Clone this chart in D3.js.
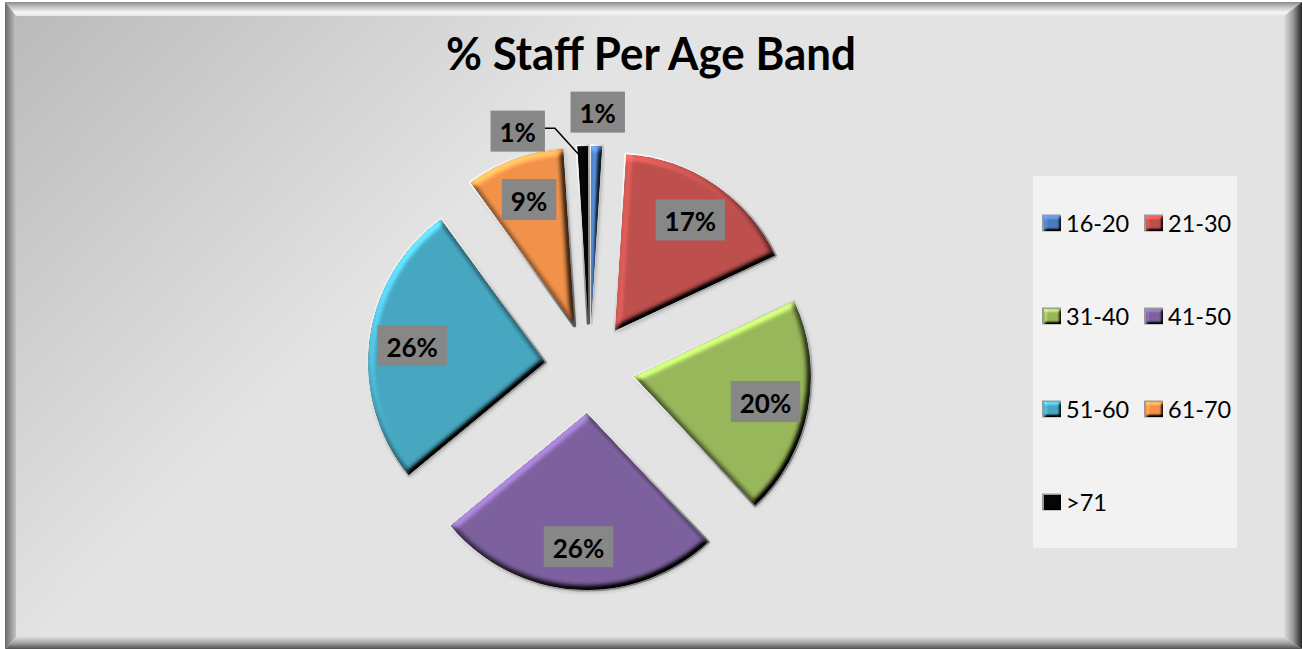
<!DOCTYPE html>
<html>
<head>
<meta charset="utf-8">
<script src="https://cdn.jsdelivr.net/npm/d3@7"></script>
<style>
  html, body { margin: 0; padding: 0; background: #ffffff; }
  svg { display: block; }
</style>
</head>
<body>
<svg id="chart" width="1302" height="649"></svg>
<script>
// Age bands and their share of staff (percent)
const categories = ["16-20", "21-30", "31-40", "41-50", "51-60", "61-70", ">71"];
const shares = [1, 17, 20, 26, 26, 9, 1];
const sliceColors = ["#4a7bbb", "#bd4f4c", "#98b75a", "#7c619e", "#47a7c1", "#f2924a", "#050505"];
const chartTitle = "% Staff Per Age Band";

const W = 1302, H = 649;
const svg = d3.select("#chart");
const defs = svg.append("defs");

// ---------- gradients ----------
function linGrad(id, x1, y1, x2, y2, stops, units) {
  const g = defs.append("linearGradient").attr("id", id)
    .attr("x1", x1).attr("y1", y1).attr("x2", x2).attr("y2", y2);
  if (units) g.attr("gradientUnits", units);
  stops.forEach(([o, c, a]) => g.append("stop").attr("offset", o)
    .attr("stop-color", c).attr("stop-opacity", a == null ? 1 : a));
}
linGrad("bgGrad", 0, 0, 340, 330, [[0, "#b8b8b8"], [1, "#e3e3e3"]], "userSpaceOnUse");
linGrad("topBand", 0, 2, 0, 16, [[0, "#8c8c8c"], [0.25, "#b4b4b4"], [0.75, "#f6f6f6"], [1, "#e6e6e6"]], "userSpaceOnUse");
linGrad("leftBand", 5, 0, 16, 0, [[0, "#6a6a6a"], [1, "#c2c2c2"]], "userSpaceOnUse");
linGrad("rightBand", 1284, 0, 1302, 0, [[0, "#dedede"], [0.5, "#9a9a9a"], [1, "#262626"]], "userSpaceOnUse");
linGrad("bottomBand", 0, 637, 0, 649, [[0, "#dcdcdc"], [0.5, "#a4a4a4"], [1, "#505050"]], "userSpaceOnUse");
linGrad("rimGrad", 0, 0, 1, 1, [[0, "#ffffff"], [0.45, "#d8d8d8"], [1, "#5a5a5a"]]);

// ---------- bevel filters ----------
function bevelFilter(id, blur, scale) {
  const f = defs.append("filter").attr("id", id)
    .attr("x", "-10%").attr("y", "-10%").attr("width", "120%").attr("height", "120%")
    .attr("color-interpolation-filters", "sRGB");
  f.append("feGaussianBlur").attr("in", "SourceAlpha").attr("stdDeviation", blur).attr("result", "b");
  const dl = f.append("feDiffuseLighting").attr("in", "b").attr("surfaceScale", scale)
    .attr("diffuseConstant", 1).attr("lighting-color", "#ffffff").attr("result", "light");
  dl.append("feDistantLight").attr("azimuth", 235).attr("elevation", 45);
  f.append("feComposite").attr("in", "SourceGraphic").attr("in2", "light")
    .attr("operator", "arithmetic").attr("k1", 1.414).attr("k2", 0).attr("k3", 0).attr("k4", 0)
    .attr("result", "lit");
  f.append("feComposite").attr("in", "lit").attr("in2", "SourceAlpha").attr("operator", "in");
}
bevelFilter("bevel", 3.4, 5);
bevelFilter("bevelSmall", 1.4, 2.6);

const shadow = defs.append("filter").attr("id", "softShadow")
  .attr("x", "-10%").attr("y", "-10%").attr("width", "120%").attr("height", "120%");
shadow.append("feGaussianBlur").attr("stdDeviation", 2);

// ---------- background and frame ----------
svg.append("rect").attr("x", 5).attr("y", 2).attr("width", W - 5).attr("height", H - 2)
  .attr("fill", "url(#bgGrad)");
const bands = [
  ["url(#topBand)", [[5, 2], [1302, 2], [1284, 16], [16, 16]]],
  ["url(#leftBand)", [[5, 2], [16, 16], [16, 637], [5, 649]]],
  ["url(#rightBand)", [[1302, 2], [1302, 649], [1284, 637], [1284, 16]]],
  ["url(#bottomBand)", [[5, 649], [1302, 649], [1284, 637], [16, 637]]]
];
svg.selectAll("polygon.band").data(bands).join("polygon").attr("class", "band")
  .attr("points", d => d[1].map(p => p.join(",")).join(" "))
  .attr("fill", d => d[0]);

// ---------- title ----------
svg.append("text").attr("x", 651).attr("y", 70)
  .attr("text-anchor", "middle")
  .attr("font-family", "Lato, 'Open Sans', sans-serif")
  .attr("font-weight", 700).attr("font-size", 45)
  .attr("textLength", 410).attr("lengthAdjust", "spacingAndGlyphs")
  .attr("fill", "#000").text(chartTitle);

// ---------- pie ----------
const cx = 589.7, cy = 368, R = 177, explode = 45;
const pie = d3.pie().sort(null).value(d => d);
const arcs = pie(shares);
const arcGen = d3.arc().innerRadius(0).outerRadius(R);

function mid(a) { return (a.startAngle + a.endAngle) / 2; }

const pieG = svg.append("g").attr("transform", `translate(${cx},${cy})`);
const slices = pieG.selectAll("g.slice").data(arcs).join("g").attr("class", "slice")
  .attr("transform", d => {
    const m = mid(d);
    return `translate(${explode * Math.sin(m)},${-explode * Math.cos(m)})`;
  });

// soft shadow under each slice
slices.append("path").attr("d", arcGen)
  .attr("transform", "translate(1.5,2)")
  .attr("fill", "#000").attr("opacity", 0.22).attr("filter", "url(#softShadow)");
// thin rim around the slice
slices.append("path").attr("d", arcGen)
  .attr("fill", "none").attr("stroke", "url(#rimGrad)").attr("stroke-width", 3.4)
  .attr("stroke-linejoin", "round");
// bevelled fill
slices.append("path").attr("d", arcGen)
  .attr("fill", (d, i) => sliceColors[i]).attr("filter", "url(#bevel)");

// ---------- data labels ----------
const labelFont = "Lato, 'Open Sans', sans-serif";
const labelR = 134, outerLabelR = R + 34;
const labels = arcs.map((d, i) => {
  const m = mid(d);
  const ox = explode * Math.sin(m), oy = -explode * Math.cos(m);
  const small = shares[i] < 3;
  const r = small ? outerLabelR : labelR;
  return {
    i, small,
    x: cx + ox + r * Math.sin(m),
    y: cy + oy - r * Math.cos(m),
    tipX: cx + ox + (R - 6) * Math.sin(m),
    tipY: cy + oy - (R - 6) * Math.cos(m),
    text: shares[i] + "%"
  };
});
// small outside labels that would collide are pushed to the left and given a leader line
for (let a = 0; a < labels.length; a++) {
  for (let b = 0; b < a; b++) {
    const A = labels[a], B = labels[b];
    if (A.small && B.small && Math.abs(A.x - B.x) < 55 && Math.abs(A.y - B.y) < 42) {
      A.x = B.x - 80; A.y = B.y + 19; A.leader = true;
    }
  }
}

const lblG = svg.append("g");
labels.forEach(l => {
  const g = lblG.append("g");
  const t = g.append("text").attr("x", l.x).attr("y", l.y + 1)
    .attr("text-anchor", "middle").attr("dominant-baseline", "central")
    .attr("font-family", labelFont).attr("font-weight", 700).attr("font-size", 26)
    .attr("fill", "#000").text(l.text);
  const w = t.node().getComputedTextLength() + 18;
  const h = 41;
  g.insert("rect", "text").attr("x", l.x - w / 2).attr("y", l.y - h / 2)
    .attr("width", w).attr("height", h).attr("fill", "#878787");
  if (l.leader) {
    const sx = l.x + w / 2, sy = l.y - 3;
    lblG.insert("polyline", "g").attr("points",
      `${sx},${sy} ${sx + 10},${sy} ${l.tipX - 1},${l.tipY + 6}`)
      .attr("fill", "none").attr("stroke", "#000").attr("stroke-width", 1.5);
  }
});

// ---------- legend ----------
const legX = 1033, legY = 176, legW = 204, legH = 372;
svg.append("rect").attr("x", legX).attr("y", legY).attr("width", legW).attr("height", legH)
  .attr("fill", "#f2f2f2");
const legItems = svg.append("g").selectAll("g").data(categories).join("g")
  .attr("transform", (d, i) => `translate(${legX + 9 + (i % 2) * 102},${223 + Math.floor(i / 2) * 93})`);
legItems.append("rect").attr("x", 0).attr("y", -8.5).attr("width", 19).attr("height", 17)
  .attr("fill", "#9a9a9a");
legItems.append("rect").attr("x", 2).attr("y", -7).attr("width", 17).attr("height", 15)
  .attr("fill", (d, i) => sliceColors[i]).attr("filter", "url(#bevelSmall)");
legItems.append("text").attr("x", 24).attr("y", 0)
  .attr("dominant-baseline", "central")
  .attr("font-family", labelFont).attr("font-size", 23.5).attr("fill", "#000")
  .text(d => d);
</script>
</body>
</html>
